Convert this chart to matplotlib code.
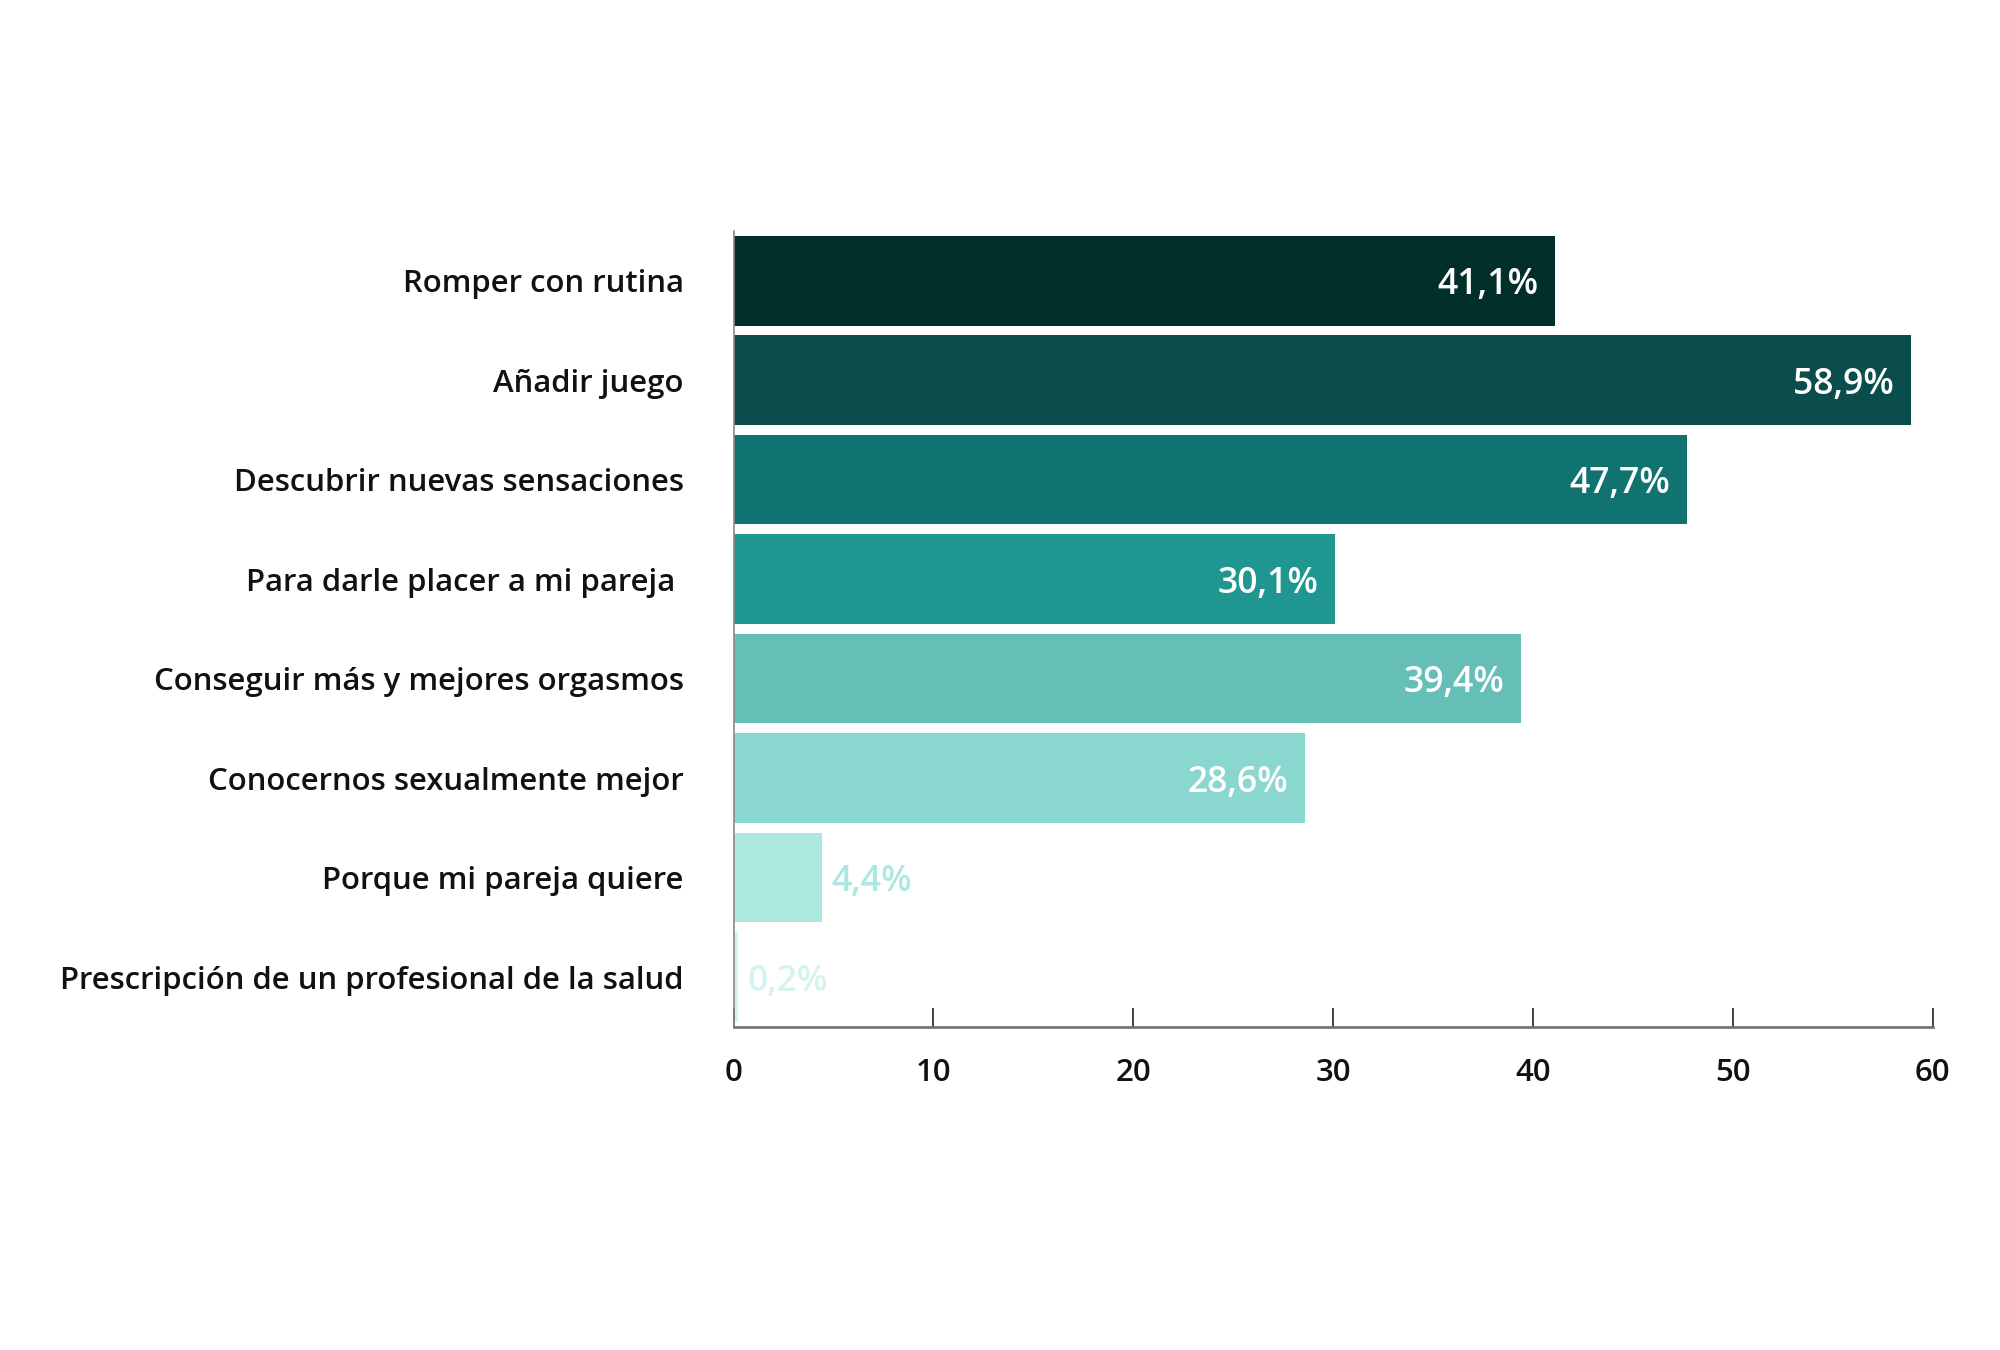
import matplotlib
matplotlib.use("Agg")
import matplotlib.pyplot as plt

categories = [
    "Romper con rutina",
    "Añadir juego",
    "Descubrir nuevas sensaciones",
    "Para darle placer a mi pareja ",
    "Conseguir más y mejores orgasmos",
    "Conocernos sexualmente mejor",
    "Porque mi pareja quiere",
    "Prescripción de un profesional de la salud",
]
values = [41.1, 58.9, 47.7, 30.1, 39.4, 28.6, 4.4, 0.2]
value_labels = ["41,1%", "58,9%", "47,7%", "30,1%", "39,4%", "28,6%", "4,4%", "0,2%"]
colors = ["#022f2a", "#0b4d4c", "#107370", "#1f968f", "#65bfb7", "#89d7cf", "#ade8df", "#d5f3ee"]
label_inside = [True, True, True, True, True, True, False, False]
xticks = [0, 10, 20, 30, 40, 50, 60]

plt.rcParams['font.family'] = ['Open Sans', 'DejaVu Sans']

fig = plt.figure(figsize=(10, 6.75), dpi=200)
ax = fig.add_axes([0.3668, 0.2393, 0.5995, 0.5896])

y = list(range(len(categories)))
ax.barh(y, values, height=0.9, color=colors, edgecolor='none')

for yi, v, lab, c, inside in zip(y, values, value_labels, colors, label_inside):
    if inside:
        ax.annotate(lab, xy=(v, yi), xytext=(-6, 0), textcoords='offset points',
                    ha='right', va='center_baseline', color='white', fontsize=12.8, fontweight=600)
    else:
        ax.annotate(lab, xy=(v, yi), xytext=(3.5, 0), textcoords='offset points',
                    ha='left', va='center_baseline', color=c, fontsize=12.8, fontweight=600)

ax.set_ylim(7.5, -0.5)
ax.set_xlim(0, 60)
ax.set_yticks(y)
ax.set_yticklabels(categories, fontsize=11.2, fontweight=600, color='#111111')
for t in ax.get_yticklabels():
    t.set_verticalalignment('center_baseline')
ax.set_xticks(xticks)
ax.set_xticklabels([str(t) for t in xticks], fontsize=11.2, fontweight=600, color='#111111')

ax.tick_params(axis='y', length=0, pad=18)
ax.tick_params(axis='x', direction='in', length=7, width=0.6, color='#222222', pad=11)

for s in ['top', 'right']:
    ax.spines[s].set_visible(False)
ax.spines['left'].set_color('#888888')
ax.spines['left'].set_linewidth(0.6)
ax.spines['bottom'].set_color('#777777')
ax.spines['bottom'].set_linewidth(1.0)

fig.savefig("out.png", dpi=200, facecolor='white')
